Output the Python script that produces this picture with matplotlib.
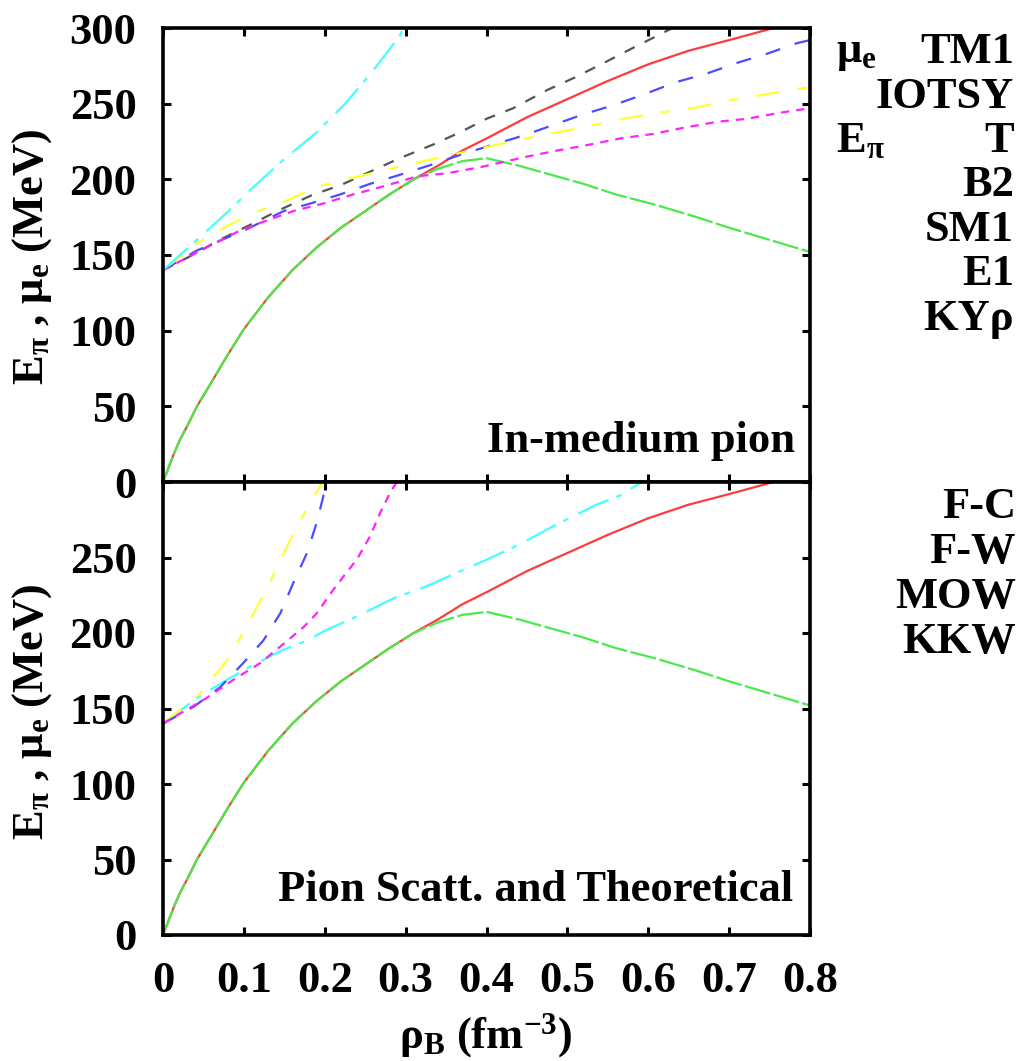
import matplotlib
matplotlib.use("Agg")
import matplotlib.pyplot as plt

plt.rcParams["font.family"] = ["Liberation Serif", "DejaVu Serif"]
plt.rcParams["font.weight"] = "bold"
plt.rcParams["mathtext.fontset"] = "custom"
plt.rcParams["mathtext.rm"] = "Liberation Serif:bold"
plt.rcParams["mathtext.it"] = "Liberation Serif:bold"
plt.rcParams["mathtext.bf"] = "Liberation Serif:bold"
plt.rcParams["lines.scale_dashes"] = False

# electron chemical potential (same in both panels)
mu_x = [0, 0.005, 0.013, 0.021, 0.03, 0.042, 0.06, 0.08, 0.10, 0.13, 0.16, 0.19, 0.22,
        0.25, 0.28, 0.31, 0.34, 0.37, 0.40, 0.45, 0.50, 0.55, 0.60, 0.65, 0.70, 0.755]
mu_y = [0, 7, 18, 28, 37, 50, 66, 84, 101, 122, 140, 155, 168,
        179, 190, 200, 209, 219, 227, 241, 253, 265, 276, 285, 292, 300]

# mu_e with pion condensation
mupi_x = [0, 0.005, 0.013, 0.021, 0.03, 0.042, 0.06, 0.08, 0.10, 0.13, 0.16, 0.19, 0.22,
          0.25, 0.28, 0.31, 0.34, 0.37, 0.40, 0.44, 0.48, 0.52, 0.56, 0.61, 0.66, 0.70,
          0.75, 0.80]
mupi_y = [0, 7, 18, 28, 37, 50, 66, 84, 101, 122, 140, 155, 168,
          179, 190, 200, 207, 212, 214, 209, 203, 197, 190, 183, 175, 168,
          160, 152]

# In-medium pion energies (top panel)
gray_x = [0, 0.033, 0.07, 0.112, 0.141, 0.186, 0.219, 0.264, 0.293, 0.334, 0.367,
          0.40, 0.433, 0.475, 0.508, 0.549, 0.578, 0.619, 0.63]
gray_y = [140, 149, 160, 171, 179, 190, 196, 207, 214, 223, 231,
          240, 247, 259, 267, 278, 286, 297, 300]

blue_x = [0, 0.042, 0.1035, 0.149, 0.182, 0.219, 0.256, 0.293, 0.334, 0.372, 0.409,
          0.446, 0.483, 0.52, 0.557, 0.594, 0.633, 0.673, 0.71, 0.747, 0.784, 0.80]
blue_y = [140, 153, 167, 179, 184, 190, 197, 203, 210, 217, 223,
          229, 236, 243, 249, 256, 264, 270, 277, 283, 290, 292]

yel_x = [0, 0.046, 0.079, 0.112, 0.145, 0.19, 0.227, 0.281, 0.314, 0.355, 0.398,
         0.4375, 0.487, 0.524, 0.569, 0.611, 0.656, 0.697, 0.743, 0.788, 0.80]
yel_y = [140, 159, 169, 178, 184, 195, 200, 207, 211, 216, 221,
         226, 231, 235, 240, 244, 247, 252, 256, 260, 261]

mag_x = [0, 0.054, 0.091, 0.124, 0.161, 0.198, 0.235, 0.277, 0.314, 0.351, 0.392,
         0.45, 0.487, 0.528, 0.565, 0.606, 0.643, 0.685, 0.722, 0.763, 0.80]
mag_y = [140, 155, 165, 172, 179, 184, 190, 196, 202, 204, 208,
         215, 219, 223, 227, 230, 234, 238, 240, 244, 247]

cyan_x = [0, 0.042, 0.079, 0.112, 0.149, 0.19, 0.227, 0.26, 0.293, 0.297]
cyan_y = [140, 160, 178, 195, 213, 231, 251, 272, 295, 300]

# Pion scattering / theoretical (bottom panel)
fc_x = [0, 0.042, 0.079, 0.112, 0.149, 0.178, 0.202, 0.244, 0.285, 0.326, 0.372,
        0.398, 0.442, 0.487, 0.536, 0.565, 0.592]
fc_y = [140, 157, 169, 179, 189, 195, 202, 212, 223, 231, 242,
        248, 259, 272, 285, 291, 300]

fw_x = [0, 0.046, 0.066, 0.079, 0.099, 0.112, 0.128, 0.145, 0.165, 0.182, 0.197]
fw_y = [140, 160, 173, 182, 200, 213, 229, 248, 270, 286, 300]

mow_x = [0, 0.0375, 0.0705, 0.099, 0.124, 0.145, 0.161, 0.178, 0.19, 0.198, 0.201]
mow_y = [140, 151, 164, 180, 195, 213, 233, 253, 273, 290, 300]

kkw_x = [0, 0.054, 0.087, 0.12, 0.145, 0.174, 0.19, 0.211, 0.227, 0.24, 0.256,
         0.268, 0.281, 0.289]
kkw_y = [140, 157, 169, 180, 191, 204, 213, 229, 240, 249, 264, 279, 293, 300]

top_labels = ["TM1", "IOTSY", "T", "B2", "SM1", "E1", "KYρ"]
bot_labels = ["F-C", "F-W", "MOW", "KKW"]
x_ticks = [0, 0.1, 0.2, 0.3, 0.4, 0.5, 0.6, 0.7, 0.8]
x_ticklabels = ["0", "0.1", "0.2", "0.3", "0.4", "0.5", "0.6", "0.7", "0.8"]

RED, GREEN, GRAY, BLUE = "#ff3b3b", "#4be84b", "#555555", "#4c4cff"
YELLOW, MAGENTA, CYAN = "#ffff33", "#ff22ff", "#44ffff"
LW = 1.6
FS = 32

W, H = 1022, 1061
fig = plt.figure(figsize=(W / 100, H / 100), dpi=100, facecolor="white")
L, R = 163, 810
ax1 = fig.add_axes([L / W, 1 - 482 / H, (R - L) / W, (482 - 28) / H])
ax2 = fig.add_axes([L / W, 1 - 935 / H, (R - L) / W, (935 - 482) / H])

for ax in (ax1, ax2):
    ax.set_xlim(0, 0.8)
    ax.set_ylim(0, 300)
    ax.set_xticks(x_ticks)
    ax.tick_params(direction="in", length=6, width=2.2, top=True, right=True,
                   labelsize=FS, pad=19)
    for s in ax.spines.values():
        s.set_linewidth(2.6)
    ax.plot(mu_x, mu_y, color=RED, lw=LW)
    ax.plot(mupi_x, mupi_y, color=GREEN, lw=LW, dashes=(19, 2.5))

ax1.set_yticks([0, 50, 100, 150, 200, 250, 300])
ax1.set_xticklabels([])
ax2.set_yticks([0, 50, 100, 150, 200, 250, 300])
ax2.set_yticklabels(["0", "50", "100", "150", "200", "250", ""])
ax2.set_xticklabels(x_ticklabels)

# top panel curves
ax1.plot(gray_x, gray_y, color=GRAY, lw=LW, dashes=(8, 8))
ax1.plot(blue_x, blue_y, color=BLUE, lw=LW, dashes=(11, 11))
ax1.plot(yel_x, yel_y, color=YELLOW, lw=LW, dashes=(17, 13, 7, 13))
ax1.plot(mag_x, mag_y, color=MAGENTA, lw=LW, dashes=(6, 5))
ax1.plot(cyan_x, cyan_y, color=CYAN, lw=LW, dashes=(24, 6, 4, 8))

# bottom panel curves
ax2.plot(fc_x, fc_y, color=CYAN, lw=LW, dashes=(24, 6, 4, 8))
ax2.plot(fw_x, fw_y, color=YELLOW, lw=LW, dashes=(17, 13, 7, 13))
ax2.plot(mow_x, mow_y, color=BLUE, lw=LW, dashes=(11, 11))
ax2.plot(kkw_x, kkw_y, color=MAGENTA, lw=LW, dashes=(6, 5))

ax1.text(0.977, 0.066, "In-medium pion", transform=ax1.transAxes,
         ha="right", va="baseline", fontsize=FS, fontweight="bold")
ax2.text(0.974, 0.075, "Pion Scatt. and Theoretical", transform=ax2.transAxes,
         ha="right", va="baseline", fontsize=FS, fontweight="bold")

# axis titles
ylab = "E$_{π}$ , μ$_{e}$ (MeV)"
fig.text(32 / W, 1 - 257 / H, ylab, rotation=90, ha="center", va="center", fontsize=FS)
fig.text(32 / W, 1 - 712 / H, ylab, rotation=90, ha="center", va="center", fontsize=FS)
fig.text(486 / W, 1 - 1048 / H, "ρ$_{B}$ (fm$^{-3}$)", ha="center", va="baseline", fontsize=FS)

# legend texts (right column)
for i, lab in enumerate(top_labels):
    fig.text(1014 / W, 1 - (63 + i * 44.5) / H, lab, ha="right", va="baseline", fontsize=FS)
fig.text(836 / W, 1 - 62 / H, "μ$_{e}$", ha="left", va="baseline", fontsize=FS)
fig.text(836 / W, 1 - 152 / H, "E$_{π}$", ha="left", va="baseline", fontsize=FS)
for i, lab in enumerate(bot_labels):
    fig.text(1016 / W, 1 - (518 + i * 45) / H, lab, ha="right", va="baseline", fontsize=FS)

fig.savefig("out.png", dpi=100, facecolor="white")
plt.close(fig)
